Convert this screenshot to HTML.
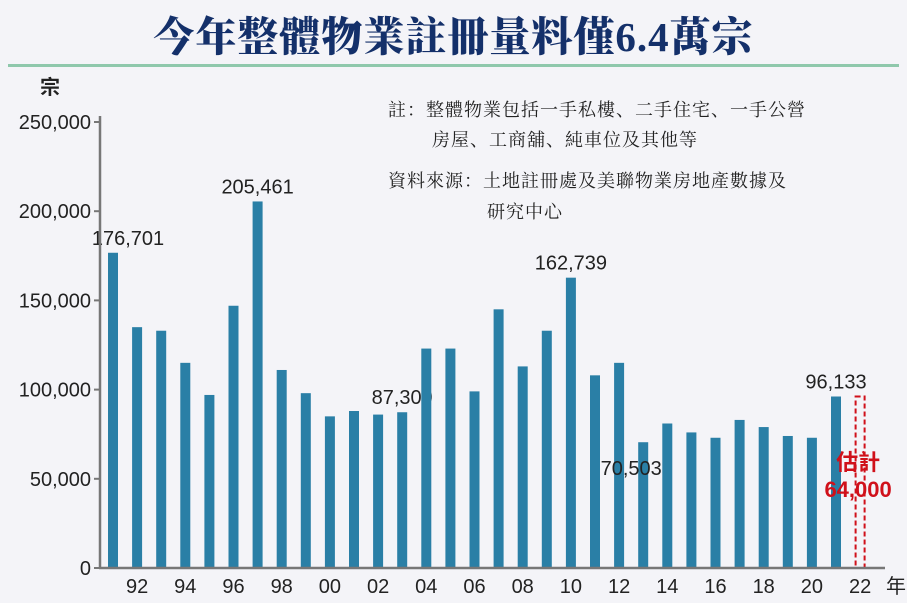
<!DOCTYPE html>
<html><head><meta charset="utf-8">
<style>
body{margin:0;background:#f4f4f8;}
#wrap{position:relative;width:907px;height:603px;overflow:hidden;background:#f4f4f8;font-family:"Liberation Sans","Noto Sans CJK TC",sans-serif;}
#title{position:absolute;left:0;top:4px;width:907px;text-align:center;font-family:"Liberation Serif","Noto Serif CJK SC",serif;font-weight:900;font-size:41px;color:#14306a;letter-spacing:1px;}
#rule{position:absolute;left:8px;top:64px;width:891px;height:3px;background:#8fc8ac;}
.note{position:absolute;font-family:"Liberation Serif","Noto Serif CJK SC",serif;font-size:18px;color:#222;letter-spacing:1px;white-space:nowrap;}
</style></head><body>
<div id="wrap">
<div id="title">今年整體物業註冊量料僅6.4萬宗</div>
<div id="rule"></div>
<div class="note" style="left:388px;top:96px">註：整體物業包括一手私樓、二手住宅、一手公營</div>
<div class="note" style="left:432px;top:126px">房屋、工商舖、純車位及其他等</div>
<div class="note" style="left:388px;top:167px">資料來源：土地註冊處及美聯物業房地產數據及</div>
<div class="note" style="left:487px;top:198px">研究中心</div>
<svg id="chart" width="907" height="603" style="position:absolute;left:0;top:0"></svg>
</div>
<script>
const years=[1991,1992,1993,1994,1995,1996,1997,1998,1999,2000,2001,2002,2003,2004,2005,2006,2007,2008,2009,2010,2011,2012,2013,2014,2015,2016,2017,2018,2019,2020,2021];
const values=[176701,135000,133000,115000,97000,147000,205461,111000,98000,85000,88000,86000,87309,123000,123000,99000,145000,113000,133000,162739,108000,115000,70503,81000,76000,73000,83000,79000,74000,73000,96133];
const estimateYear=2022;
const estimateValue=64000;
const yTicks=[0,50000,100000,150000,200000,250000];
const xTickLabels=["92","94","96","98","00","02","04","06","08","10","12","14","16","18","20","22"];
const xTickYears=[1992,1994,1996,1998,2000,2002,2004,2006,2008,2010,2012,2014,2016,2018,2020,2022];
const labelled={1991:"176,701",1997:"205,461",2003:"87,309",2010:"162,739",2013:"70,503",2021:"96,133"};

const NS="http://www.w3.org/2000/svg";
const svg=document.getElementById('chart');
const y0=568,yTop=122,yMax=250000;
const xAxisL=100,xAxisR=885;
function yS(v){return y0-(v/yMax)*(y0-yTop);}
function xS(yr){return 113+(yr-1991)*24.1;}
function mk(t,a){const e=document.createElementNS(NS,t);for(const k in a)e.setAttribute(k,a[k]);svg.appendChild(e);return e;}
const fmt=v=>v.toLocaleString('en-US');

yTicks.forEach(v=>{
 const t=mk('line',{x1:xAxisL-6,x2:xAxisL,y1:yS(v),y2:yS(v),stroke:'#777','stroke-width':2});
 
 
 const l=mk('text',{x:xAxisL-9,y:yS(v)+7,'text-anchor':'end','font-size':20,fill:'#222'});
 l.textContent=fmt(v);
 
 
});
const yt=mk('text',{x:50,y:94,'text-anchor':'middle','font-size':20,fill:'#222','font-weight':'bold'});
yt.textContent='宗';



years.forEach((yr,i)=>{
 const v=values[i];
 const r=mk('rect',{x:xS(yr)-5,y:yS(v),width:10,height:y0-yS(v),fill:'#2a7fa6'});
 
 
 if(labelled[yr]){
  let lx=xS(yr),ly=yS(v)-8;
  if(yr===1991){lx=xS(yr)+15;}
  if(yr===2013){ly=yS(v)+33;lx=xS(yr)-12;}
  const l=mk('text',{x:lx,y:ly,'text-anchor':'middle','font-size':20,fill:'#222'});
  l.textContent=fmt(v);
  
  
 }
});
// estimate box (dashed)
const boxTop=yS(values[values.length-1]);
const eb=mk('rect',{x:xS(estimateYear)-4.5,y:boxTop,width:9,height:y0-boxTop,fill:'none',stroke:'#d0101a','stroke-width':2,'stroke-dasharray':'5,3'});


const e1=mk('text',{x:xS(estimateYear)-2,y:470,'text-anchor':'middle','font-size':22,'font-weight':'bold',fill:'#d0101a'});
e1.textContent='估計';


const e2=mk('text',{x:xS(estimateYear)-2,y:497,'text-anchor':'middle','font-size':22,'font-weight':'bold',fill:'#d0101a'});
e2.textContent=fmt(estimateValue);



const ya=mk('line',{x1:xAxisL,x2:xAxisL,y1:yTop-6,y2:y0,stroke:'#777','stroke-width':2.5});


const xa=mk('line',{x1:xAxisL-1,x2:xAxisR,y1:y0,y2:y0,stroke:'#777','stroke-width':2.5});



xTickYears.forEach((yr,i)=>{
 const l=mk('text',{x:xS(yr),y:593,'text-anchor':'middle','font-size':20,fill:'#222'});
 l.textContent=xTickLabels[i];
 
 
});
const xt=mk('text',{x:896,y:593,'text-anchor':'middle','font-size':20,fill:'#222'});
xt.textContent='年';


</script>
</body></html>
